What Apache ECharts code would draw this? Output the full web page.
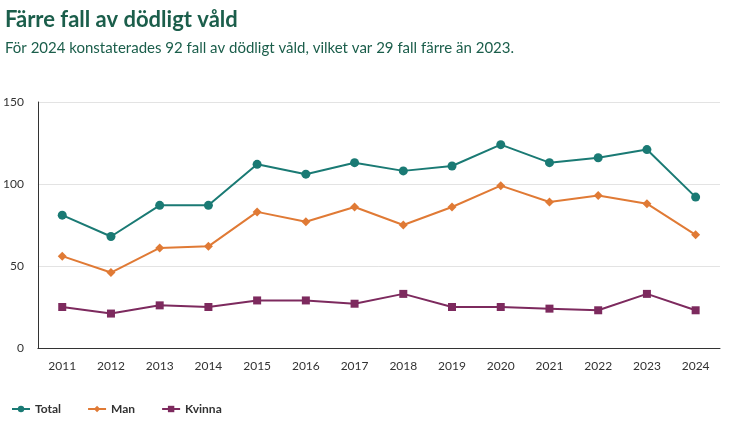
<!DOCTYPE html>
<html><head><meta charset="utf-8">
<script src="https://cdn.jsdelivr.net/npm/echarts@6/dist/echarts.min.js"></script>
<style>body{margin:0;background:#fff}#c{width:750px;height:422px}</style>
</head><body><div id="c"></div>
<script>
const years = ['2011','2012','2013','2014','2015','2016','2017','2018','2019','2020','2021','2022','2023','2024']
const total = [81, 68, 87, 87, 112, 106, 113, 108, 111, 124, 113, 116, 121, 92]
const man = [56, 46, 61, 62, 83, 77, 86, 75, 86, 99, 89, 93, 88, 69]
const kvinna = [25, 21, 26, 25, 29, 29, 27, 33, 25, 25, 24, 23, 33, 23]

const chart = echarts.init(document.getElementById('c'))
const font = 'Source Sans Pro, Lato, Noto Sans, sans-serif'
chart.setOption({
  animation: false,
  textStyle: { fontFamily: font },
  title: {
    text: 'Färre fall av dödligt våld',
    subtext: 'För 2024 konstaterades 92 fall av dödligt våld, vilket var 29 fall färre än 2023.',
    left: 0, top: 4,
    textStyle: { color: '#1b5e4b', fontSize: 22, fontWeight: 'bold', fontFamily: font },
    subtextStyle: { color: '#1b5e4b', fontSize: 15, fontFamily: font },
    itemGap: 10
  },
  legend: {
    left: 6, top: 398, itemWidth: 18, itemHeight: 8, itemGap: 26,
    textStyle: { fontSize: 12, fontWeight: 'bold', color: '#333' },
    data: ['Total', 'Man', 'Kvinna']
  },
  grid: { left: 36, right: 30, top: 102, bottom: 74 },
  xAxis: {
    type: 'category', data: years, boundaryGap: true,
    axisLine: { lineStyle: { color: '#333' } },
    axisTick: { alignWithLabel: true, lineStyle: { color: '#333' } },
    axisLabel: { color: '#333', fontSize: 12, margin: 12 }
  },
  yAxis: {
    type: 'value', min: 0, max: 150, interval: 50,
    axisLine: { show: true, lineStyle: { color: '#333' } },
    axisLabel: { color: '#333', fontSize: 12, margin: 14 },
    splitLine: { lineStyle: { color: '#e3e3e3' } }
  },
  series: [
    { name: 'Total', type: 'line', data: total, symbol: 'circle', symbolSize: 9,
      color: '#1a7a74', lineStyle: { width: 2 } },
    { name: 'Man', type: 'line', data: man, symbol: 'diamond', symbolSize: 9,
      color: '#e07a35', lineStyle: { width: 2 } },
    { name: 'Kvinna', type: 'line', data: kvinna, symbol: 'rect', symbolSize: 8,
      color: '#7d2a5e', lineStyle: { width: 2 } }
  ]
})
</script></body></html>
